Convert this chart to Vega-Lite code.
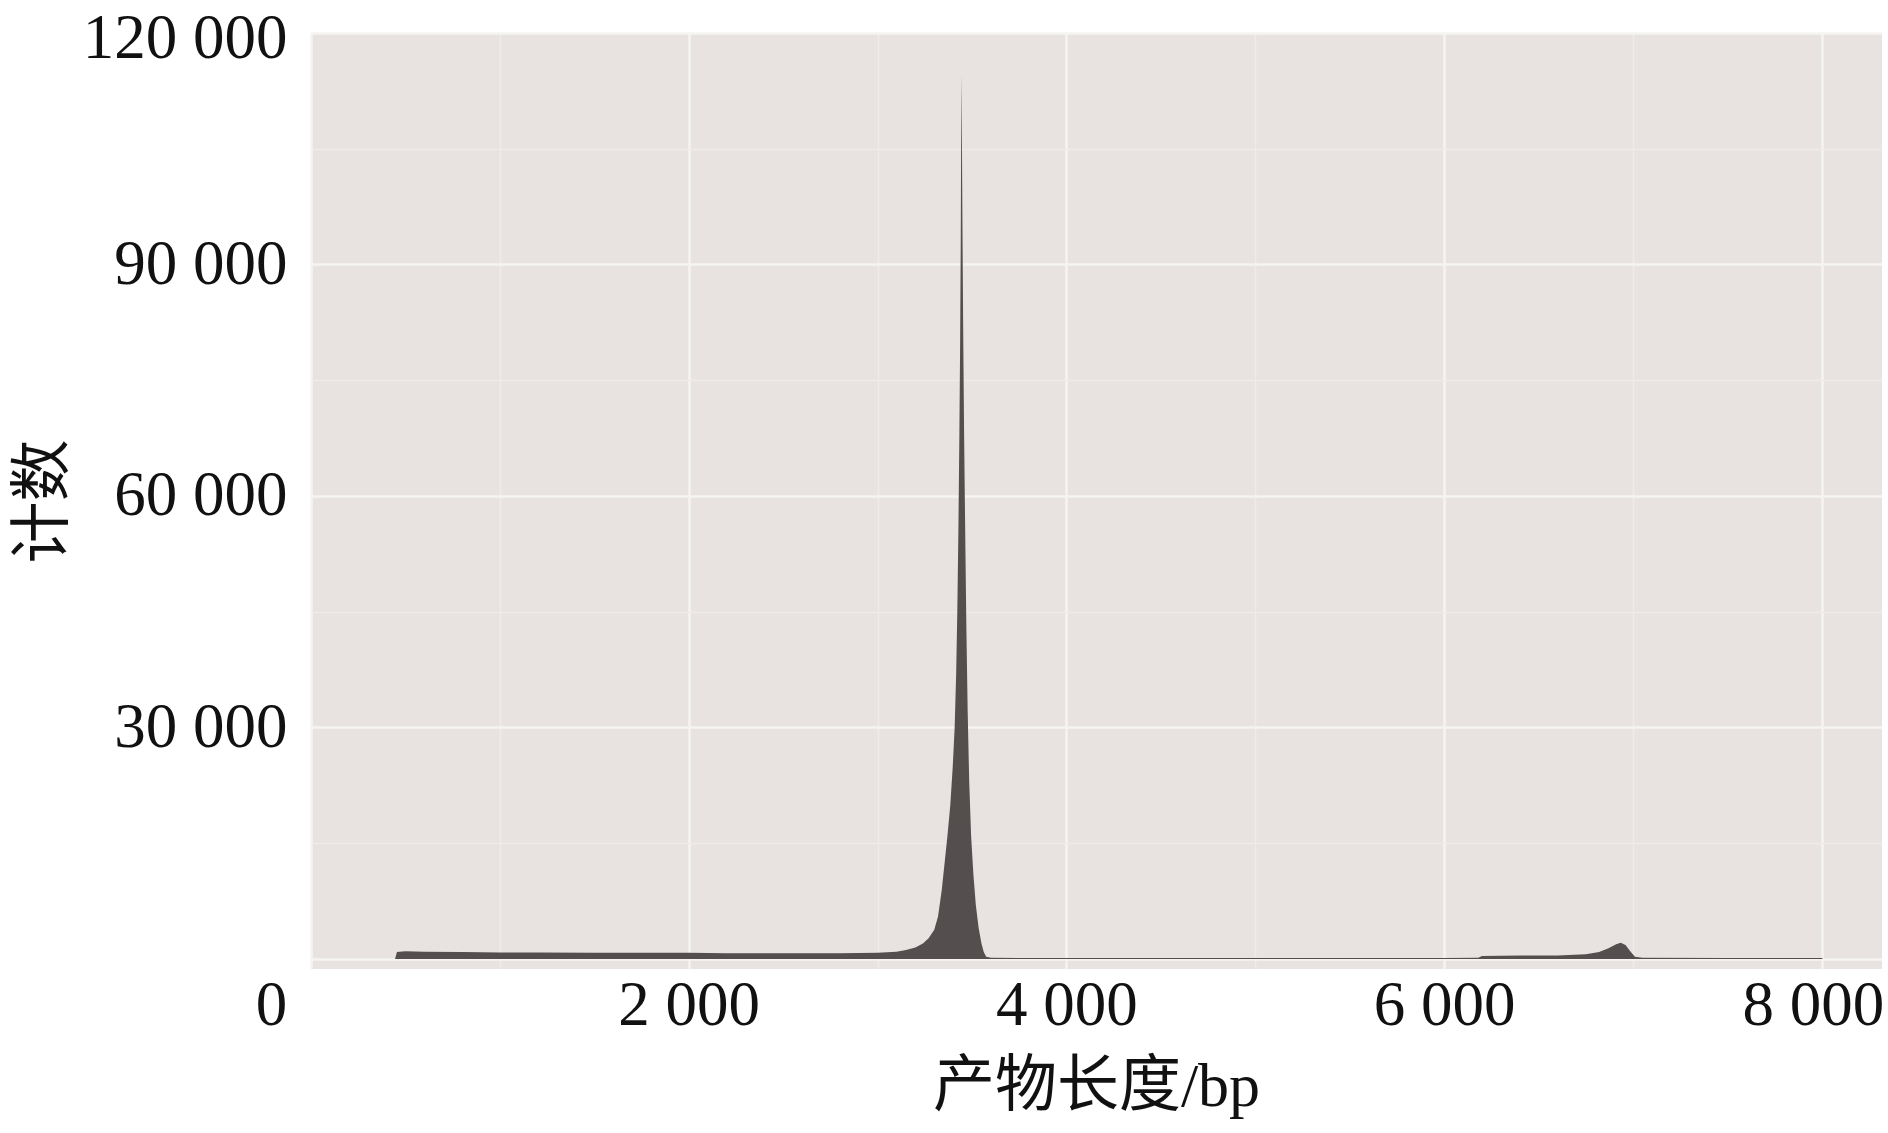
{
  "$schema": "https://vega.github.io/schema/vega-lite/v6.json",
  "width": 1571,
  "height": 936,
  "autosize": {"type": "none"},
  "padding": {"left": 311, "top": 33, "right": 6, "bottom": 164},
  "background": "white",
  "config": {
    "view": {"fill": "#e8e3e0", "stroke": null},
    "axis": {
      "labelFont": "Liberation Serif",
      "titleFont": "Liberation Serif, Noto Sans CJK SC",
      "labelColor": "#111111",
      "titleColor": "#111111",
      "labelFontSize": 63,
      "labelLimit": 500,
      "titleFontSize": 62,
      "titleFontWeight": "normal",
      "domain": false,
      "ticks": false
    }
  },
  "data": {
    "values": [
      {"length": 445, "count": 0},
      {"length": 455, "count": 900},
      {"length": 500, "count": 1000},
      {"length": 600, "count": 950},
      {"length": 800, "count": 900},
      {"length": 1000, "count": 850},
      {"length": 1200, "count": 850},
      {"length": 1500, "count": 800},
      {"length": 1800, "count": 800},
      {"length": 2000, "count": 800},
      {"length": 2200, "count": 750},
      {"length": 2500, "count": 750},
      {"length": 2800, "count": 750},
      {"length": 3000, "count": 800},
      {"length": 3100, "count": 950},
      {"length": 3150, "count": 1150},
      {"length": 3200, "count": 1500},
      {"length": 3240, "count": 2000},
      {"length": 3270, "count": 2700},
      {"length": 3300, "count": 3800},
      {"length": 3320, "count": 5500},
      {"length": 3340, "count": 9000},
      {"length": 3355, "count": 12500},
      {"length": 3370, "count": 16000},
      {"length": 3385, "count": 20000},
      {"length": 3398, "count": 25000},
      {"length": 3408, "count": 30000},
      {"length": 3416, "count": 37000},
      {"length": 3422, "count": 45000},
      {"length": 3428, "count": 56000},
      {"length": 3433, "count": 68000},
      {"length": 3437, "count": 80000},
      {"length": 3440, "count": 92000},
      {"length": 3442, "count": 104000},
      {"length": 3444, "count": 114500},
      {"length": 3446, "count": 108000},
      {"length": 3449, "count": 96000},
      {"length": 3453, "count": 82000},
      {"length": 3458, "count": 68000},
      {"length": 3464, "count": 55000},
      {"length": 3470, "count": 43000},
      {"length": 3477, "count": 32000},
      {"length": 3485, "count": 23000},
      {"length": 3495, "count": 16000},
      {"length": 3507, "count": 11000},
      {"length": 3520, "count": 7000},
      {"length": 3535, "count": 4000},
      {"length": 3550, "count": 2000},
      {"length": 3562, "count": 900},
      {"length": 3575, "count": 300},
      {"length": 3600, "count": 150},
      {"length": 4000, "count": 120},
      {"length": 5000, "count": 120},
      {"length": 6000, "count": 120},
      {"length": 6180, "count": 150},
      {"length": 6200, "count": 400},
      {"length": 6400, "count": 450},
      {"length": 6600, "count": 450},
      {"length": 6750, "count": 600},
      {"length": 6820, "count": 900},
      {"length": 6870, "count": 1400},
      {"length": 6910, "count": 1900},
      {"length": 6935, "count": 2100},
      {"length": 6960, "count": 1800},
      {"length": 6985, "count": 1000},
      {"length": 7010, "count": 300},
      {"length": 7050, "count": 150},
      {"length": 7500, "count": 120},
      {"length": 8000, "count": 120},
      {"length": 8005, "count": 0}
    ]
  },
  "mark": {"type": "area", "color": "#544e4e", "interpolate": "linear", "clip": true},
  "encoding": {
    "x": {
      "field": "length",
      "type": "quantitative",
      "scale": {"domain": [0, 8318], "nice": false, "zero": false},
      "axis": {
        "title": "产物长度/bp",
        "values": [0, 1000, 2000, 3000, 4000, 5000, 6000, 7000, 8000],
        "labelExpr": "datum.value % 2000 === 0 ? replace(format(datum.value, ','), ',', ' ') : ''",
        "labelPadding": 5,
        "labelFlush": false,
        "labelOverlap": false,
        "labelOffset": {"condition": [{"test": "datum.value === 0", "value": -40}, {"test": "datum.value === 8000", "value": -9}], "value": 0},
        "grid": true,
        "gridColor": {"condition": {"test": "datum.value % 2000 === 0", "value": "#f6f4f2"}, "value": "#efebe9"},
        "gridWidth": {"condition": {"test": "datum.value % 2000 === 0", "value": 2.5}, "value": 1.5},
        "titleX": 785,
        "titleY": 117,
        "titleBaseline": "middle",
        "titleAlign": "center"
      }
    },
    "y": {
      "field": "count",
      "type": "quantitative",
      "scale": {"domain": [-1300, 120000], "nice": false, "zero": false},
      "axis": {
        "title": "计数",
        "values": [0, 15000, 30000, 45000, 60000, 75000, 90000, 105000, 120000],
        "labelExpr": "datum.value % 30000 === 0 && datum.value > 0 ? replace(format(datum.value, ','), ',', ' ') : ''",
        "labelPadding": 24,
        "labelFlush": false,
        "labelOverlap": false,
        "labelOffset": {"condition": {"test": "datum.value === 120000", "value": 5}, "value": 0},
        "grid": true,
        "gridColor": {"condition": {"test": "datum.value % 30000 === 0", "value": "#f6f4f2"}, "value": "#efebe9"},
        "gridWidth": {"condition": {"test": "datum.value % 30000 === 0", "value": 2.5}, "value": 1.5},
        "titleX": -268,
        "titleY": 468,
        "titleAngle": -90,
        "titleBaseline": "middle",
        "titleAlign": "center"
      }
    }
  }
}
